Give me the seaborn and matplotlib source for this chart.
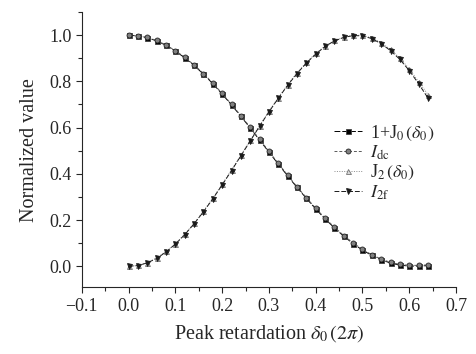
import matplotlib
matplotlib.use("Agg")
import matplotlib.pyplot as plt
import seaborn as sns
from matplotlib.ticker import MultipleLocator

# peak retardation (units of 2*pi)
delta0 = [0.00, 0.02, 0.04, 0.06, 0.08, 0.10, 0.12, 0.14, 0.16, 0.18, 0.20,
          0.22, 0.24, 0.26, 0.28, 0.30, 0.32, 0.34, 0.36, 0.38, 0.40, 0.42,
          0.44, 0.46, 0.48, 0.50, 0.52, 0.54, 0.56, 0.58, 0.60, 0.62, 0.64]

one_plus_j0 = [1.000, 0.997, 0.989, 0.975, 0.956, 0.931, 0.902, 0.869, 0.831,
               0.790, 0.745, 0.698, 0.649, 0.598, 0.546, 0.494, 0.442, 0.391,
               0.341, 0.294, 0.248, 0.205, 0.166, 0.130, 0.098, 0.070, 0.047,
               0.028, 0.014, 0.005, 0.001, 0.001, 0.003]
i_dc = [1.000, 0.996, 0.990, 0.977, 0.957, 0.933, 0.904, 0.871, 0.834,
        0.792, 0.748, 0.700, 0.652, 0.601, 0.549, 0.497, 0.445, 0.394,
        0.344, 0.297, 0.251, 0.208, 0.169, 0.133, 0.101, 0.073, 0.050,
        0.031, 0.017, 0.008, 0.004, 0.004, 0.006]
j2 = [0.000, 0.004, 0.016, 0.036, 0.064, 0.098, 0.139, 0.186, 0.239, 0.295,
      0.355, 0.417, 0.481, 0.545, 0.609, 0.671, 0.730, 0.786, 0.837, 0.882,
      0.921, 0.953, 0.977, 0.992, 1.000, 0.999, 0.988, 0.967, 0.938, 0.901,
      0.854, 0.799, 0.743]
i_2f = [0.000, 0.003, 0.015, 0.034, 0.062, 0.096, 0.137, 0.184, 0.236, 0.292,
        0.352, 0.414, 0.478, 0.542, 0.606, 0.668, 0.727, 0.783, 0.834, 0.879,
        0.918, 0.951, 0.975, 0.990, 0.998, 0.997, 0.985, 0.963, 0.933, 0.895,
        0.847, 0.790, 0.728]

labels = [r"1+J$_0\,(\delta_0)$", r"$I_{\rm dc}$", r"J$_2\,(\delta_0)$", r"$I_{\rm 2f}$"]

sns.set_style("ticks")
plt.rcParams["font.family"] = ["Liberation Serif", "DejaVu Serif"]
plt.rcParams["mathtext.fontset"] = "stix"

fig = plt.figure(figsize=(4.76, 3.54), dpi=100)
ax = fig.add_axes([0.172, 0.189, 0.786, 0.777])

styles = [
    dict(marker="s", linestyle=(0, (6, 2)), color="black", mfc="black", mec="0.25"),
    dict(marker="o", linestyle=(0, (3, 2)), color="0.35", mfc="0.5", mec="0.15"),
    dict(marker="^", linestyle=(0, (1, 1.5)), color="0.55", mfc="0.85", mec="0.45"),
    dict(marker="v", linestyle=(0, (5, 2)), color="0.1", mfc="0.1", mec="0.1"),
]
series = [one_plus_j0, i_dc, j2, i_2f]

for vals, lab, st in zip(series, labels, styles):
    sns.lineplot(x=delta0, y=vals, ax=ax, label=lab, linewidth=0.7,
                 markersize=3.6, markeredgewidth=0.6, **st)

ax.set_xlim(-0.1, 0.7)
ax.set_ylim(-0.09, 1.1)
ax.xaxis.set_major_locator(MultipleLocator(0.1))
ax.xaxis.set_minor_locator(MultipleLocator(0.05))
ax.yaxis.set_major_locator(MultipleLocator(0.2))
ax.yaxis.set_minor_locator(MultipleLocator(0.1))
ax.xaxis.set_major_formatter(matplotlib.ticker.FuncFormatter(
    lambda v, p: f"{v:.1f}".replace("-", "\u2212")))
ax.tick_params(which="both", direction="out", length=4, width=0.8, labelsize=13)
ax.tick_params(which="minor", length=3)
sns.despine(ax=ax)

ax.set_xlabel(r"Peak retardation $\delta_0\,(2\pi)$", fontsize=14.5, labelpad=6)
ax.set_ylabel("Normalized value", fontsize=14.5, labelpad=7)

ax.legend(loc="upper left", bbox_to_anchor=(0.64, 0.64), frameon=False,
          fontsize=13, handlelength=1.55, handletextpad=0.45, labelspacing=0.05,
          borderpad=0.2)

fig.savefig("out.png", dpi=100)
